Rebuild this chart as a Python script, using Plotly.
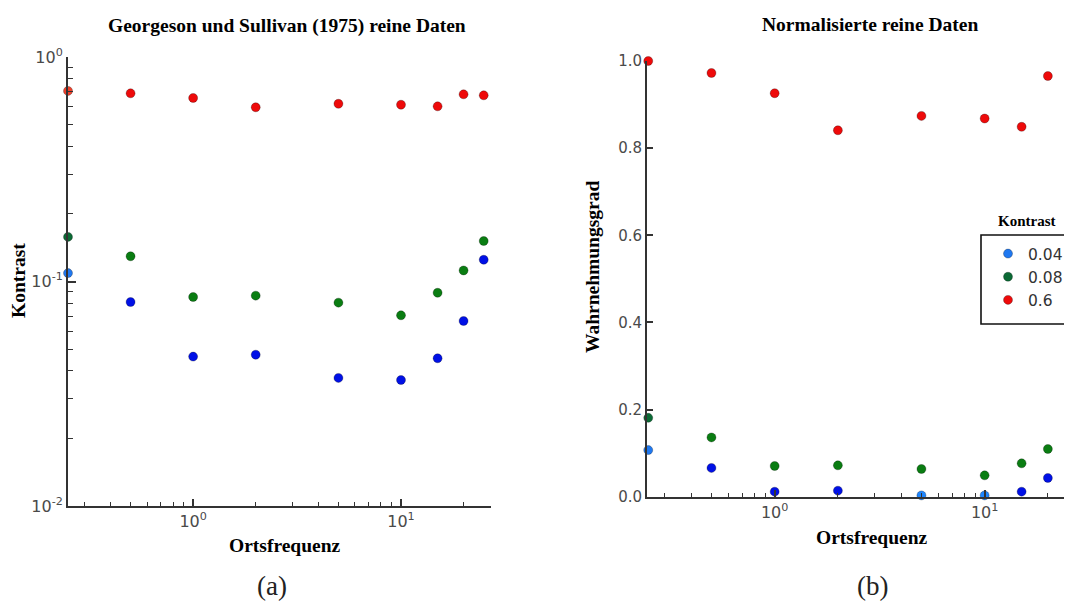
import math
import plotly.graph_objects as go

# ---------------- data ----------------
freq = [0.25, 0.5, 1, 2, 5, 10, 15, 20, 25]
contrast_labels = ["0.04", "0.08", "0.6"]

raw_004 = [0.109, 0.081, 0.0463, 0.0472, 0.0372, 0.0364, 0.0455, 0.0667, 0.125]
raw_008 = [0.158, 0.1295, 0.0853, 0.0865, 0.0805, 0.0707, 0.0891, 0.112, 0.1515]
raw_06 = [0.706, 0.689, 0.657, 0.597, 0.619, 0.613, 0.603, 0.682, 0.675]

freq_norm = [0.25, 0.5, 1, 2, 5, 10, 15, 20]
norm_004 = [0.107, 0.066, 0.0115, 0.0138, 0.003, 0.003, 0.0115, 0.043]
norm_008 = [0.181, 0.136, 0.0705, 0.072, 0.0636, 0.049, 0.0766, 0.1095]
norm_06 = [1.0, 0.9725, 0.926, 0.841, 0.874, 0.868, 0.849, 0.9655]

x_major = [1, 10]
x_major_text = ["10<sup>0</sup>", "10<sup>1</sup>"]
x_minor = [0.3, 0.4, 0.5, 0.6, 0.7, 0.8, 0.9, 2, 3, 4, 5, 6, 7, 8, 9, 20]
y_log_major = [0.01, 0.1, 1]
y_log_major_text = ["10<sup>-2</sup>", "10<sup>-1</sup>", "10<sup>0</sup>"]
y_log_minor = [0.02, 0.03, 0.04, 0.05, 0.06, 0.07, 0.08, 0.09,
               0.2, 0.3, 0.4, 0.5, 0.6, 0.7, 0.8, 0.9]
y_lin_ticks = [0.0, 0.2, 0.4, 0.6, 0.8, 1.0]
y_lin_text = ["0.0", "0.2", "0.4", "0.6", "0.8", "1.0"]

# ---------------- styles ----------------
OFF = 8  # page body margin
W, H = 1072 - OFF, 605 - OFF

BLUE, GREEN, RED = "#0010e6", "#0a7d12", "#ee0a0a"
LBLUE = "#1f78f0"
base_colors = [BLUE, GREEN, RED]


def px2x(p):
    return (p - OFF) / W


def px2y(p):
    return 1 - (p - OFF) / H


fig = go.Figure()
MK = 9
edge = dict(width=0.6, color="rgba(0,0,0,0.45)")

left_series = [raw_004, raw_008, raw_06]
left_first = [LBLUE, "#0b6a35", "#f0402a"]
for i, ys in enumerate(left_series):
    cols = [base_colors[i]] * len(ys)
    cols[0] = left_first[i]
    fig.add_trace(go.Scatter(
        x=freq, y=ys, mode="markers", xaxis="x", yaxis="y",
        name=contrast_labels[i], showlegend=False, cliponaxis=False,
        marker=dict(size=MK, color=cols, line=edge),
    ))

right_series = [norm_004, norm_008, norm_06]
for i, ys in enumerate(right_series):
    cols = [base_colors[i]] * len(ys)
    if i == 0:
        cols[0] = LBLUE
        cols[4] = "#1e86ff"
        cols[5] = "#1e86ff"
    if i == 1:
        cols[0] = "#0b6a35"
    fig.add_trace(go.Scatter(
        x=freq_norm, y=ys, mode="markers", xaxis="x2", yaxis="y2",
        name=contrast_labels[i], showlegend=True, cliponaxis=False,
        marker=dict(size=MK, color=cols, line=edge),
    ))

AX = "#333333"
logfont = dict(family="DejaVu Sans", size=16, color="#4a4a4a")
linfont = dict(family="DejaVu Sans", size=15, color="#4a4a4a")

common_x = dict(
    type="log", showline=True, linecolor=AX, linewidth=2, showgrid=False, zeroline=False,
    tickmode="array", tickvals=x_major, ticktext=x_major_text,
    ticks="inside", ticklen=7, tickwidth=1.5, tickcolor=AX, tickfont=logfont,
    minor=dict(tickmode="array", tickvals=x_minor, ticks="inside", ticklen=4,
               tickwidth=1.2, tickcolor=AX, showgrid=False),
)

L_x0, L_x1 = 68, 491
L_y0, L_y1 = 57, 506
R_x0 = 647
R_y0, R_y1 = 61, 496.7

fig.update_layout(
    width=W, height=H,
    margin=dict(l=0, r=0, t=0, b=0, autoexpand=False),
    paper_bgcolor="white", plot_bgcolor="white",
    xaxis=dict(common_x, domain=[px2x(L_x0), px2x(L_x1)],
               range=[math.log10(0.25), 1.433], anchor="y"),
    yaxis=dict(type="log", domain=[px2y(L_y1), px2y(L_y0)], range=[-2, 0], anchor="x",
               showline=True, linecolor=AX, linewidth=2, showgrid=False, zeroline=False,
               tickmode="array", tickvals=y_log_major, ticktext=y_log_major_text,
               ticks="inside", ticklen=8, tickwidth=1.5, tickcolor=AX, tickfont=logfont,
               minor=dict(tickmode="array", tickvals=y_log_minor, ticks="inside",
                          ticklen=5, tickwidth=1.2, tickcolor=AX, showgrid=False)),
    xaxis2=dict(common_x, domain=[px2x(R_x0), 1.0],
                range=[-0.608, 1.416], anchor="y2"),
    yaxis2=dict(domain=[px2y(R_y1), px2y(R_y0)], range=[0, 1], anchor="x2",
                showline=True, linecolor=AX, linewidth=2, showgrid=False, zeroline=False,
                tickmode="array", tickvals=y_lin_ticks, ticktext=y_lin_text,
                ticks="inside", ticklen=6, tickwidth=1.5, tickcolor=AX, tickfont=linfont),
    legend=dict(x=px2x(988), y=px2y(237), xanchor="left", yanchor="top",
                borderwidth=0, bgcolor="rgba(0,0,0,0)",
                font=dict(family="DejaVu Sans", size=15.5, color="#333333"),
                tracegroupgap=0, itemwidth=30),
    showlegend=True,
    shapes=[dict(type="rect", xref="paper", yref="paper",
                 x0=px2x(981), x1=px2x(1090), y0=px2y(324), y1=px2y(235),
                 line=dict(color="#111111", width=1.6), fillcolor="white", layer="above")],
)

serif_b = "Liberation Serif"
ann = [
    dict(text="<b>Georgeson und Sullivan (1975) reine Daten</b>", x=px2x(287), y=px2y(26),
         font=dict(family=serif_b, size=19.5, color="black")),
    dict(text="<b>Normalisierte reine Daten</b>", x=px2x(870), y=px2y(25),
         font=dict(family=serif_b, size=19.5, color="black")),
    dict(text="<b>Ortsfrequenz</b>", x=px2x(285), y=px2y(545),
         font=dict(family=serif_b, size=19.5, color="black")),
    dict(text="<b>Ortsfrequenz</b>", x=px2x(872), y=px2y(537),
         font=dict(family=serif_b, size=19.5, color="black")),
    dict(text="<b>Kontrast</b>", x=px2x(18), y=px2y(281), textangle=-90,
         font=dict(family=serif_b, size=19.5, color="black")),
    dict(text="<b>Wahrnehmungsgrad</b>", x=px2x(593), y=px2y(267), textangle=-90,
         font=dict(family=serif_b, size=19.5, color="black")),
    dict(text="<b>Kontrast</b>", x=px2x(1027), y=px2y(221),
         font=dict(family=serif_b, size=15, color="black")),
    dict(text="(a)", x=px2x(272), y=px2y(586),
         font=dict(family=serif_b, size=27, color="#222222")),
    dict(text="(b)", x=px2x(872), y=px2y(586),
         font=dict(family=serif_b, size=27, color="#222222")),
]
for a in ann:
    a.update(xref="paper", yref="paper", showarrow=False, xanchor="center", yanchor="middle")
fig.update_layout(annotations=ann)

fig.write_html("out.html")
